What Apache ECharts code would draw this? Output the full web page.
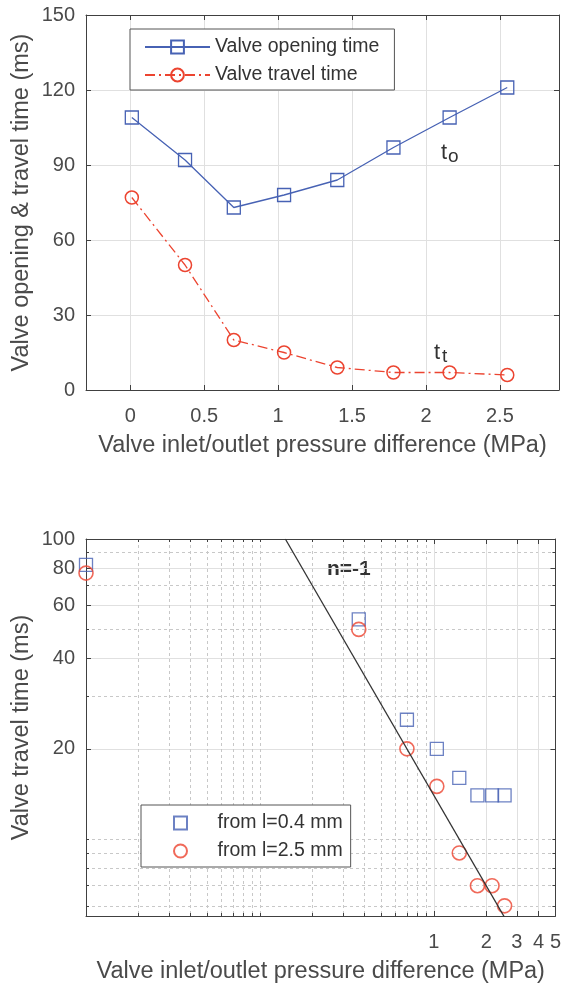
<!DOCTYPE html>
<html>
<head>
<meta charset="utf-8">
<script src="https://cdn.jsdelivr.net/npm/echarts@6/dist/echarts.min.js"></script>
<style>
html, body { margin: 0; padding: 0; background: #fff; }
#charts { width: 564px; height: 986px; }
</style>
</head>
<body>
<div id="charts"></div>
<script>
// pressure difference (MPa) for every test point
var pressure = [0.01, 0.37, 0.7, 1.04, 1.4, 1.78, 2.16, 2.55];
// top chart
var openingTime = [109, 92, 73, 78, 84, 97, 109, 121];
var travelTime = [77, 50, 20, 15, 9, 7, 7, 6];
// bottom chart (log-log)
var travelShort = [82, 54, 25, 20, 16, 14, 14, 14];  // from l=0.4 mm
var travelLong = [77, 50, 20, 15, 9, 7, 7, 6];       // from l=2.5 mm
// n=-1 reference line, two end points
var fitX = [0.14, 2.55];
var fitY = [100, 5.49];

// tick labels
var topXTicks = [0, 0.5, 1, 1.5, 2, 2.5];
var logXTicks = [1, 2, 3, 4, 5];
var logXMinor = [0.02, 0.03, 0.04, 0.05, 0.06, 0.07, 0.08, 0.09, 0.1,
    0.2, 0.3, 0.4, 0.5, 0.6, 0.7, 0.8, 0.9];
var logYTicks = [20, 40, 60, 80, 100];
var logYMinor = [6, 7, 8, 9, 10, 30, 50, 70, 90];

var blue = '#4762b4';
var red = '#ec4430';
var axisColor = '#404040';
var labelColor = '#4a4a4a';
var font = 'Arial, "Liberation Sans", Helvetica, sans-serif';

var chart = echarts.init(document.getElementById('charts'));

function pairs(xs, ys) {
    return xs.map(function (x, i) { return [x, ys[i]]; });
}

var tickFont = { fontSize: 20, color: labelColor, fontFamily: font };
var nameFont = { fontSize: 23.5, color: labelColor, fontFamily: font };
var majorGrid = { show: true, lineStyle: { color: '#e0e0e0', width: 1 } };
var minorGrid = { show: true, lineStyle: { color: '#c8c8c8', width: 1, type: [3, 3] } };
var line = { show: true, onZero: false, lineStyle: { color: axisColor, width: 1 } };
var noLine = { show: false };

function tick(values, len) {
    return { show: true, inside: true, length: len, customValues: values, lineStyle: { color: axisColor } };
}

var option = {
    animation: false,
    backgroundColor: '#fff',
    grid: [
        { left: 86, top: 15, width: 473, height: 375 },
        { left: 86, top: 539, width: 473, height: 377 }
    ],
    legend: [
        {
            data: ['Valve opening time', 'Valve travel time'],
            orient: 'vertical',
            left: 130,
            top: 29,
            itemWidth: 65,
            itemHeight: 16,
            itemGap: 8,
            padding: [8, 15, 5, 14],
            borderColor: '#555',
            borderWidth: 1,
            backgroundColor: '#fff',
            textStyle: { fontSize: 19.5, color: '#333', fontFamily: font, lineHeight: 20 }
        },
        {
            data: [
                { name: 'from l=0.4 mm', icon: 'path://M0,0L10,0L10,10L0,10Z' },
                { name: 'from l=2.5 mm', icon: 'circle' }
            ],
            orient: 'vertical',
            left: 141,
            top: 805,
            itemWidth: 64,
            itemHeight: 13,
            itemGap: 8,
            padding: [8, 8, 6, 32],
            borderColor: '#555',
            borderWidth: 1,
            backgroundColor: '#fff',
            textStyle: { fontSize: 19.5, color: '#333', fontFamily: font, lineHeight: 20 }
        }
    ],
    xAxis: [
        {
            gridIndex: 0, type: 'value', position: 'bottom', min: -0.3, max: 2.9,
            axisLine: line, axisTick: tick(topXTicks, 5),
            axisLabel: Object.assign({ customValues: topXTicks, margin: 16 }, tickFont),
            splitLine: majorGrid,
            name: 'Valve inlet/outlet pressure difference (MPa)',
            nameLocation: 'middle', nameGap: 44, nameMoveOverlap: false, nameTextStyle: nameFont
        },
        {
            gridIndex: 0, type: 'value', position: 'top', min: -0.3, max: 2.9,
            axisLine: line, axisTick: tick(topXTicks, 5),
            axisLabel: { show: false }, splitLine: { show: false }
        },
        {
            gridIndex: 1, type: 'log', position: 'bottom', min: 0.01, max: 5,
            axisLine: line, axisTick: tick(logXTicks, 5),
            axisLabel: Object.assign({ customValues: logXTicks, margin: 16 }, tickFont),
            splitLine: majorGrid,
            name: 'Valve inlet/outlet pressure difference (MPa)',
            nameLocation: 'middle', nameGap: 44, nameMoveOverlap: false, nameTextStyle: nameFont
        },
        {
            gridIndex: 1, type: 'log', position: 'bottom', min: 0.01, max: 5,
            axisLine: noLine, axisTick: tick(logXMinor, 3),
            axisLabel: { show: false }, splitLine: minorGrid
        },
        {
            gridIndex: 1, type: 'log', position: 'top', min: 0.01, max: 5,
            axisLine: line, axisTick: tick(logXTicks, 5),
            axisLabel: { show: false }, splitLine: { show: false }
        },
        {
            gridIndex: 1, type: 'log', position: 'top', min: 0.01, max: 5,
            axisLine: noLine, axisTick: tick(logXMinor, 3),
            axisLabel: { show: false }, splitLine: { show: false }
        }
    ],
    yAxis: [
        {
            gridIndex: 0, type: 'value', position: 'left', min: 0, max: 150, interval: 30,
            axisLine: line, axisTick: { show: true, inside: true, length: 5, lineStyle: { color: axisColor } },
            axisLabel: Object.assign({ margin: 11 }, tickFont),
            splitLine: majorGrid,
            name: 'Valve opening & travel time (ms)',
            nameLocation: 'middle', nameGap: 52, nameMoveOverlap: false, nameTextStyle: nameFont
        },
        {
            gridIndex: 0, type: 'value', position: 'right', min: 0, max: 150, interval: 30,
            axisLine: line, axisTick: { show: true, inside: true, length: 5, lineStyle: { color: axisColor } },
            axisLabel: { show: false }, splitLine: { show: false }
        },
        {
            gridIndex: 1, type: 'log', position: 'left', min: 5.55, max: 100,
            axisLine: line, axisTick: tick(logYTicks, 5),
            axisLabel: Object.assign({ customValues: logYTicks, margin: 11 }, tickFont),
            splitLine: majorGrid,
            name: 'Valve travel time (ms)',
            nameLocation: 'middle', nameGap: 52, nameMoveOverlap: false, nameTextStyle: nameFont
        },
        {
            gridIndex: 1, type: 'log', position: 'left', min: 5.55, max: 100,
            axisLine: noLine, axisTick: tick(logYMinor, 3),
            axisLabel: { show: false }, splitLine: minorGrid
        },
        {
            gridIndex: 1, type: 'log', position: 'right', min: 5.55, max: 100,
            axisLine: line, axisTick: tick(logYTicks, 5),
            axisLabel: { show: false }, splitLine: { show: false }
        },
        {
            gridIndex: 1, type: 'log', position: 'right', min: 5.55, max: 100,
            axisLine: noLine, axisTick: tick(logYMinor, 3),
            axisLabel: { show: false }, splitLine: { show: false }
        }
    ],
    series: [
        {
            name: 'Valve opening time', type: 'line', xAxisIndex: 0, yAxisIndex: 0,
            data: pairs(pressure, openingTime),
            symbol: 'rect', symbolSize: 13, showAllSymbol: true,
            lineStyle: { color: blue, width: 1.3 },
            itemStyle: { color: 'transparent', borderColor: blue, borderWidth: 1.3 },
            emphasis: { disabled: true }
        },
        {
            name: 'Valve travel time', type: 'line', xAxisIndex: 0, yAxisIndex: 0,
            data: pairs(pressure, travelTime),
            symbol: 'circle', symbolSize: 13, showAllSymbol: true,
            lineStyle: { color: red, width: 1.3, type: [10, 4, 2, 4] },
            itemStyle: { color: 'transparent', borderColor: red, borderWidth: 1.5 },
            emphasis: { disabled: true }
        },
        {
            name: 'from l=0.4 mm', type: 'scatter', xAxisIndex: 2, yAxisIndex: 2,
            data: pairs(pressure, travelShort), clip: false,
            symbol: 'rect', symbolSize: 13,
            itemStyle: { color: 'transparent', borderColor: blue, borderWidth: 1.3 },
            emphasis: { disabled: true }
        },
        {
            name: 'from l=2.5 mm', type: 'scatter', xAxisIndex: 2, yAxisIndex: 2,
            data: pairs(pressure, travelLong), clip: false,
            symbol: 'circle', symbolSize: 14,
            itemStyle: { color: 'transparent', borderColor: red, borderWidth: 1.6 },
            emphasis: { disabled: true }
        },
        {
            name: 'n=-1', type: 'line', xAxisIndex: 2, yAxisIndex: 2,
            data: pairs(fitX, fitY), symbol: 'none', clip: true,
            lineStyle: { color: '#333', width: 1.3 },
            emphasis: { disabled: true }
        }
    ],
    graphic: [
        { type: 'text', left: 441, top: 142, style: { text: 't', fontSize: 22, fill: '#333', fontFamily: font } },
        { type: 'text', left: 448, top: 147, style: { text: 'o', fontSize: 19, fill: '#333', fontFamily: font } },
        { type: 'text', left: 434, top: 342, style: { text: 't', fontSize: 22, fill: '#333', fontFamily: font } },
        { type: 'text', left: 442, top: 347, style: { text: 't', fontSize: 19, fill: '#333', fontFamily: font } },
        { type: 'text', left: 327, top: 559, style: { text: 'n=-1', fontSize: 21, fontWeight: 'bold', fill: '#333', fontFamily: font } }
    ]
};

chart.setOption(option);
</script>
</body>
</html>
